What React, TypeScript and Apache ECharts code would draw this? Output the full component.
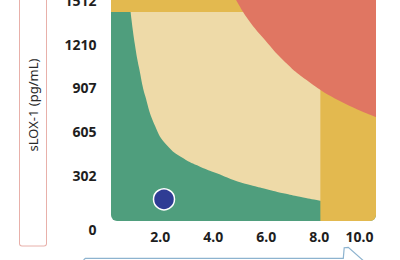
import { useEffect, useRef } from 'react';
import * as echarts from 'echarts';

// Axis set-up
const xMin = 0;
const xMax = 10;
const xInterval = 2;
const yMin = 0;
const yMax = 1607;
const yInterval = 302.4;

// Zone thresholds
const xThreshold = 7.9; // right-hand band
const yThreshold = 1447; // top band

// Boundary between the low (green) and moderate (beige) zones
const lowerCurveX = [0.74, 0.9, 1.06, 1.3, 1.66, 2.1, 2.73, 3.36, 3.99, 4.62, 5.25, 5.88, 6.5, 7.13, 7.89, 8.3];
const lowerCurveY = [1447, 1225, 1060, 860, 660, 526, 434, 376, 330, 284, 249, 220, 192, 168, 141, 130];

// Boundary of the high (red) zone, top right
const upperCurveX = [4.42, 4.72, 5.19, 5.81, 6.49, 7.38, 8.56, 10];
const upperCurveY = [1634, 1530, 1392, 1253, 1115, 976, 838, 720];

// Patient marker
const patientX = [2.0];
const patientY = [150];

const GREEN = '#4f9e7d';
const BEIGE = '#eedaa8';
const YELLOW = '#e3b94f';
const RED = '#e07662';
const DOT = '#2f3c94';
const FONT = 'Noto Sans';
const LABEL = { fontFamily: FONT, fontSize: 14, fontWeight: 'bold' as const, color: '#1e1e1e' };

const pairs = (xs: number[], ys: number[]) => xs.map((x, i) => [x, ys[i]]);

export default function App() {
  const ref = useRef<HTMLDivElement>(null);

  useEffect(() => {
    if (!ref.current) return;
    const chart = echarts.init(ref.current, undefined, { renderer: 'svg' });

    // Plot background: rounded green panel
    const basePanel = (_params: any, api: any) => {
      const [x0, y0] = api.coord([xMin, yMin]);
      const [x1, y1] = api.coord([xMax, yMax]);
      return {
        type: 'rect',
        shape: { x: x0, y: y1, width: x1 - x0, height: y0 - y1, r: [0, 0, 6, 6] },
        style: { fill: GREEN },
      };
    };

    // Elevated bands: right of xThreshold and above yThreshold
    const bands = (_params: any, api: any) => {
      const [x0, y0] = api.coord([xMin, yMin]);
      const [x1, y1] = api.coord([xMax, yMax]);
      const xt = api.coord([xThreshold, yMin])[0];
      const yt = api.coord([xMin, yThreshold])[1];
      return {
        type: 'group',
        children: [
          { type: 'rect', shape: { x: xt, y: y1, width: x1 - xt, height: y0 - y1, r: [0, 0, 6, 0] }, style: { fill: YELLOW } },
          { type: 'rect', shape: { x: x0, y: y1, width: x1 - x0, height: yt - y1 }, style: { fill: YELLOW } },
        ],
      };
    };

    chart.setOption({
      animation: false,
      grid: { left: 111, right: 24, top: 59, bottom: 39 },
      xAxis: {
        type: 'value',
        min: xMin,
        max: xMax,
        interval: xInterval,
        axisLine: { show: false },
        axisTick: { show: false },
        splitLine: { show: false },
        axisLabel: {
          ...LABEL,
          margin: 8,
          showMinLabel: false,
          formatter: (v: number) => (v === xMax ? `{e|${v.toFixed(1)}}` : `{n|${v.toFixed(1)}}`),
          rich: {
            n: { ...LABEL, padding: [0, 7.5, 0, 0] },
            e: { ...LABEL, padding: [0, 33, 0, 0] },
          },
        },
      },
      yAxis: {
        type: 'value',
        min: yMin,
        max: yMax,
        interval: yInterval,
        name: 'sLOX-1 (pg/mL)',
        nameLocation: 'middle',
        nameGap: 65,
        nameTextStyle: {
          fontFamily: FONT,
          fontSize: 13,
          color: '#2a2a2a',
          borderColor: '#e8b0aa',
          borderWidth: 1,
          borderRadius: 2,
          backgroundColor: '#ffffff',
          padding: [6.5, 94, 6.5, 94],
        },
        axisLine: { show: false },
        axisTick: { show: false },
        splitLine: { show: false },
        axisLabel: {
          ...LABEL,
          margin: 14.5,
          showMaxLabel: false,
          formatter: (v: number) => (v === 0 ? '{z|0}' : `{n|${Math.round(v)}}`),
          rich: {
            n: { ...LABEL, padding: [0, 0, 4.6, 0] },
            z: { ...LABEL, padding: [17.4, 0, 0, 0] },
          },
        },
      },
      graphic: [
        {
          type: 'polyline',
          silent: true,
          shape: {
            points: [
              [84, 334],
              [84, 329.6],
              [85.4, 328.3],
              [343.3, 328.3],
              [344.2, 317.7],
              [348.3, 317.3],
              [366, 333],
            ],
          },
          style: { stroke: '#8db3cf', lineWidth: 1.2, fill: 'none' },
        },
      ],
      series: [
        {
          type: 'custom',
          silent: true,
          z: 1,
          data: [[0, 0]],
          renderItem: basePanel,
        },
        {
          name: 'Moderate',
          type: 'line',
          silent: true,
          z: 2,
          data: pairs(lowerCurveX, lowerCurveY),
          smooth: 0.5,
          showSymbol: false,
          lineStyle: { width: 0 },
          areaStyle: { color: BEIGE, opacity: 1, origin: 'end' },
        },
        {
          type: 'custom',
          silent: true,
          z: 3,
          data: [[0, 0]],
          renderItem: bands,
        },
        {
          name: 'High',
          type: 'line',
          silent: true,
          z: 4,
          data: pairs(upperCurveX, upperCurveY),
          smooth: 0.5,
          showSymbol: false,
          lineStyle: { width: 0 },
          areaStyle: { color: RED, opacity: 1, origin: 'end' },
        },
        {
          type: 'scatter',
          z: 5,
          data: pairs(patientX, patientY),
          symbolSize: 21,
          itemStyle: { color: DOT, borderColor: '#ffffff', borderWidth: 1.5, opacity: 1 },
        },
      ],
    });

    return () => chart.dispose();
  }, []);

  return (
    <div
      ref={ref}
      style={{ position: 'absolute', left: 0, top: -70, width: 400, height: 330 }}
    />
  );
}
